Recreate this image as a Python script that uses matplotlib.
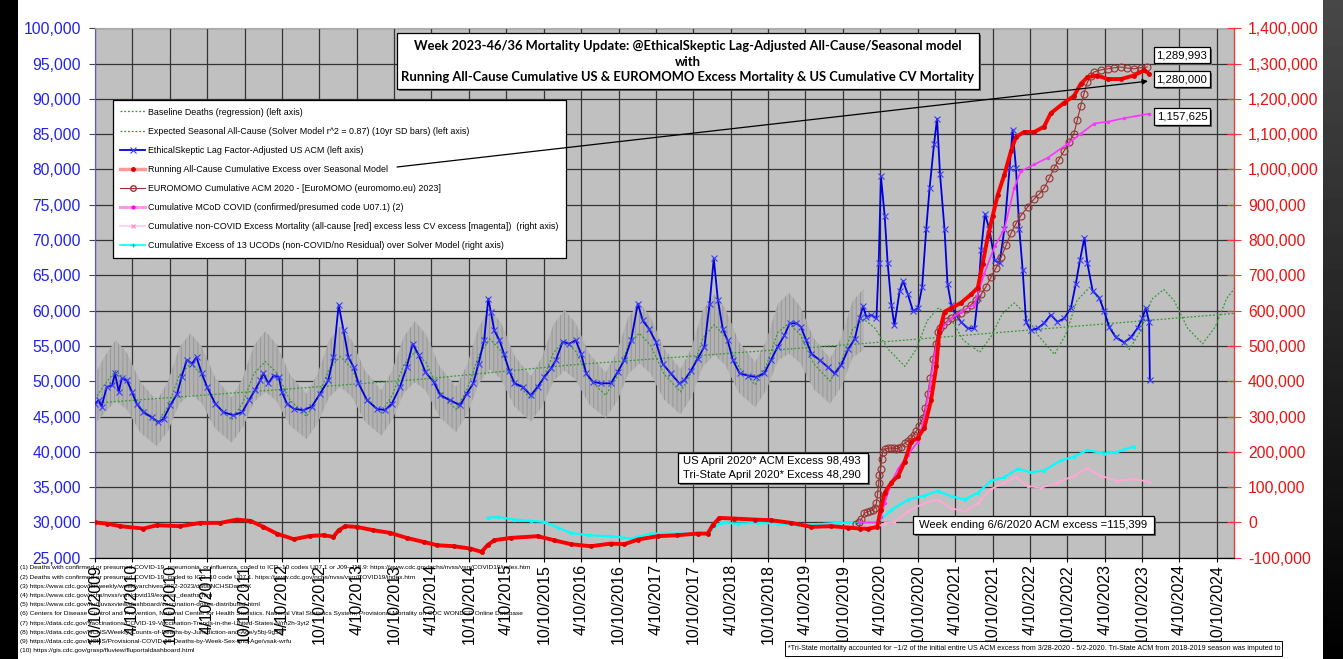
import numpy as np
import matplotlib.pyplot as plt
from matplotlib.patches import Rectangle
from matplotlib.lines import Line2D
from matplotlib.ticker import FuncFormatter

W, H = 1343, 659

# x values are decimal years
tick_labels = ["10/10/2009", "4/10/2010", "10/10/2010", "4/10/2011", "10/10/2011",
               "4/10/2012", "10/10/2012", "4/10/2013", "10/10/2013", "4/10/2014",
               "10/10/2014", "4/10/2015", "10/10/2015", "4/10/2016", "10/10/2016",
               "4/10/2017", "10/10/2017", "4/10/2018", "10/10/2018", "4/10/2019",
               "10/10/2019", "4/10/2020", "10/10/2020", "4/10/2021", "10/10/2021",
               "4/10/2022", "10/10/2022", "4/10/2023", "10/10/2023", "4/10/2024",
               "10/10/2024"]

# EthicalSkeptic lag-adjusted US ACM (left axis)
acm_t = [2009.775, 2009.82, 2009.86, 2009.93, 2010.0, 2010.04, 2010.09, 2010.13, 2010.2, 2010.265,
         2010.33, 2010.42, 2010.53, 2010.62, 2010.69, 2010.78, 2010.87, 2010.93, 2011.0, 2011.07,
         2011.13, 2011.2, 2011.27, 2011.38, 2011.49, 2011.62, 2011.74, 2011.83, 2011.91, 2011.98,
         2012.025, 2012.09, 2012.16, 2012.23, 2012.27, 2012.34, 2012.43, 2012.56, 2012.67, 2012.78,
         2012.89, 2012.96, 2013.03, 2013.095, 2013.16, 2013.23, 2013.295, 2013.41, 2013.54, 2013.65,
         2013.74, 2013.85, 2013.94, 2014.02, 2014.1, 2014.19, 2014.3, 2014.39, 2014.52, 2014.655,
         2014.74, 2014.83, 2014.9, 2014.975, 2015.03, 2015.065, 2015.11, 2015.18, 2015.24, 2015.31,
         2015.38, 2015.49, 2015.6, 2015.69, 2015.78, 2015.87, 2015.935, 2016.025, 2016.11, 2016.2,
         2016.27, 2016.34, 2016.43, 2016.54, 2016.67, 2016.76, 2016.85, 2016.94, 2017.03, 2017.095,
         2017.18, 2017.27, 2017.36, 2017.47, 2017.585, 2017.65, 2017.74, 2017.83, 2017.92, 2017.99,
         2018.045, 2018.1, 2018.165, 2018.23, 2018.3, 2018.39, 2018.5, 2018.61, 2018.72, 2018.81,
         2018.9, 2018.99, 2019.06, 2019.15, 2019.21, 2019.28, 2019.35, 2019.46, 2019.57, 2019.66,
         2019.75, 2019.84, 2019.93, 2019.995, 2020.04, 2020.085, 2020.15, 2020.22, 2020.25, 2020.28,
         2020.33, 2020.37, 2020.42, 2020.46, 2020.53, 2020.575, 2020.64, 2020.71, 2020.775, 2020.83,
         2020.885, 2020.93, 2020.99, 2021.03, 2021.07, 2021.13, 2021.17, 2021.22, 2021.285, 2021.35,
         2021.44, 2021.53, 2021.575, 2021.62, 2021.67, 2021.73, 2021.8, 2021.865, 2021.93, 2022.0,
         2022.04, 2022.085, 2022.13, 2022.175, 2022.22, 2022.285, 2022.375, 2022.46, 2022.55, 2022.64,
         2022.73, 2022.82, 2022.885, 2022.94, 2023.0, 2023.04, 2023.11, 2023.2, 2023.265, 2023.33,
         2023.42, 2023.53, 2023.62, 2023.71, 2023.775, 2023.82, 2023.865, 2023.875]
acm_v = [46800, 47300, 46400, 49200, 49400, 51100, 48500, 50400, 50100, 48500,
         46800, 45600, 44900, 44200, 44700, 46600, 48200, 50600, 53000, 52500,
         53400, 51100, 49200, 46800, 45600, 45200, 45600, 47300, 48700, 50100,
         51100, 49700, 50800, 50600, 48500, 46800, 46100, 45900, 46400, 48200,
         50100, 53400, 60800, 57200, 53400, 52000, 49700, 47300, 46100, 45900,
         46800, 49200, 52000, 55300, 53700, 51300, 49900, 48000, 47300, 46600,
         48200, 49700, 52500, 55800, 61700, 59800, 57200, 55800, 53900, 51500,
         49700, 49200, 48000, 49200, 50600, 51800, 53000, 55600, 55300, 55800,
         53900, 51100, 49900, 49700, 49700, 51300, 53000, 55800, 61000, 58600,
         57400, 55600, 52500, 51100, 49700, 50100, 51500, 53200, 54900, 61000,
         67400, 61500, 57400, 55800, 53000, 51100, 50800, 50600, 51100, 53000,
         54900, 56500, 58200, 58200, 57700, 55800, 53900, 53000, 52000, 51100,
         52300, 54500, 56000, 58900, 60600, 59100, 59400, 58900, 66700, 79000,
         73400, 66700, 60800, 57900, 62800, 64200, 62300, 59900, 60400, 63300,
         71500, 77300, 83600, 87200, 79300, 71500, 63800, 60800, 59400, 58400,
         57500, 57500, 61800, 68600, 73700, 71500, 67100, 66700, 71500, 80200,
         85600, 80200, 71500, 65700, 58400, 57200, 57500, 58200, 59400, 58400,
         58900, 60400, 63800, 67100, 70300, 66700, 62800, 61800, 59900, 57700,
         56200, 55500, 56200, 57500, 58900, 60400, 58400, 50200]

# Expected seasonal all-cause (solver model) and 10yr SD bars (left axis)
seasonal_t = [2009.775, 2009.9,
              2010.05, 2010.2, 2010.38, 2010.6, 2010.75, 2010.9,
              2011.05, 2011.2, 2011.38, 2011.6, 2011.75, 2011.9,
              2012.05, 2012.2, 2012.38, 2012.6, 2012.75, 2012.9,
              2013.05, 2013.2, 2013.38, 2013.6, 2013.75, 2013.9,
              2014.05, 2014.2, 2014.38, 2014.6, 2014.75, 2014.9,
              2015.05, 2015.2, 2015.38, 2015.6, 2015.75, 2015.9,
              2016.05, 2016.2, 2016.38, 2016.6, 2016.75, 2016.9,
              2017.05, 2017.2, 2017.38, 2017.6, 2017.75, 2017.9,
              2018.05, 2018.2, 2018.38, 2018.6, 2018.75, 2018.9,
              2019.05, 2019.2, 2019.38, 2019.6, 2019.75, 2019.9,
              2020.05, 2020.2, 2020.38, 2020.6, 2020.75, 2020.9,
              2021.05, 2021.2, 2021.38, 2021.6, 2021.75, 2021.9,
              2022.06, 2022.2, 2022.38, 2022.6, 2022.75, 2022.9,
              2023.07, 2023.2, 2023.38, 2023.6, 2023.75, 2023.9,
              2024.06, 2024.2, 2024.38, 2024.58, 2024.75, 2024.9,
              2025.02]
seasonal_v = [47500, 49500,
              51500, 50000, 46300, 44000, 46500, 50800,
              52500, 50900, 46900, 44500, 47000, 51100,
              52800, 51200, 47300, 45000, 47600, 51700,
              53500, 51900, 47900, 45500, 48100, 52300,
              54200, 52600, 48500, 46000, 48900, 53600,
              56000, 54300, 50000, 47500, 49900, 54000,
              55800, 54200, 50300, 48000, 50600, 55000,
              56800, 55100, 51000, 48500, 51300, 56100,
              58000, 56300, 52000, 49500, 52300, 56900,
              58200, 56600, 52500, 50000, 52700, 57300,
              58800, 57500, 54500, 52100, 54500, 58600,
              60400, 59100, 55800, 54100, 56300, 59500,
              61100, 59700, 56500, 53800, 56600, 61400,
              63300, 61500, 57000, 54500, 57100, 61600,
              63000, 61400, 57500, 55300, 57700, 61700,
              63300]
sd_v = [3500, 4000,
        4300, 4000, 3600, 3200, 3500, 4000,
        4300, 4000, 3600, 3200, 3500, 4000,
        4300, 4000, 3600, 3200, 3500, 4000,
        4300, 4000, 3600, 3200, 3500, 4000,
        4300, 4000, 3600, 3200, 3500, 4000,
        4300, 4000, 3600, 3200, 3500, 4000,
        4300, 4000, 3600, 3200, 3500, 4000,
        4300, 4000, 3600, 3200, 3500, 4000,
        4300, 4000, 3600, 3200, 3500, 4000,
        4300, 4000, 3600, 3200, 3500, 4000,
        4300]

# Baseline deaths (regression) (left axis)
baseline_t = [2009.775, 2014.16, 2016.13, 2020.0, 2025.0]
baseline_v = [46900, 50300, 52300, 55300, 59600]

# Running all-cause cumulative excess over seasonal model (right axis)
cum_t = [2009.775, 2009.93, 2010.11, 2010.42, 2010.6, 2010.91, 2011.18, 2011.45, 2011.67, 2011.85,
         2012.025, 2012.2, 2012.43, 2012.65, 2012.83, 2012.96, 2013.03, 2013.12, 2013.27, 2013.495,
         2013.72, 2013.94, 2014.165, 2014.345, 2014.57, 2014.79, 2014.94, 2015.02, 2015.11, 2015.33,
         2015.69, 2015.91, 2016.135, 2016.4, 2016.67, 2016.85, 2017.03, 2017.295, 2017.56, 2017.83,
         2017.965, 2018.03, 2018.12, 2018.32, 2018.59, 2018.81, 2019.08, 2019.35, 2019.615, 2019.84,
         2020.0, 2020.105, 2020.23, 2020.275, 2020.33, 2020.42, 2020.51, 2020.595, 2020.685, 2020.77,
         2020.86, 2020.95, 2021.02, 2021.06, 2021.13, 2021.22, 2021.35, 2021.485, 2021.575, 2021.64,
         2021.71, 2021.775, 2021.84, 2021.93, 2022.02, 2022.085, 2022.195, 2022.33, 2022.46, 2022.55,
         2022.73, 2022.86, 2022.95, 2023.04, 2023.17, 2023.31, 2023.49, 2023.66, 2023.8, 2023.865]
cum_v = [0, -3300, -10800, -17400, -8000, -10800, -1400, -1400, 8000, 4300,
         -12700, -31600, -47600, -38200, -36300, -41000, -22200, -10800, -12700, -22200,
         -29700, -43900, -55200, -64600, -67500, -74100, -83500, -64600, -50500, -43900,
         -39100, -50500, -61800, -67500, -60000, -61800, -48600, -39100, -36300, -31600,
         -31600, -8000, 12700, 10900, 8000, 6200, -1400, -12700, -10800, -14600,
         -17400, -18000, -13000, 35500, 84000, 113000, 132000, 171000, 229000, 239000,
         268000, 346000, 442000, 539000, 597000, 607000, 622000, 646000, 665000, 733000,
         811000, 869000, 927000, 985000, 1053000, 1092000, 1106000, 1106000, 1121000, 1159000,
         1189000, 1208000, 1242000, 1261000, 1266000, 1256000, 1256000, 1266000, 1281000, 1271000]

# EUROMOMO cumulative ACM 2020 (right axis)
euro_t = [2019.95, 2019.99, 2020.02, 2020.06, 2020.1, 2020.14, 2020.17, 2020.2, 2020.22, 2020.235,
          2020.25, 2020.26, 2020.275, 2020.29, 2020.305, 2020.33, 2020.37, 2020.41, 2020.45, 2020.48,
          2020.51, 2020.55, 2020.595, 2020.64, 2020.685, 2020.72, 2020.75, 2020.79, 2020.84, 2020.87,
          2020.905, 2020.94, 2020.975, 2021.01, 2021.04, 2021.075, 2021.11, 2021.165, 2021.22, 2021.285,
          2021.35, 2021.42, 2021.485, 2021.55, 2021.62, 2021.685, 2021.75, 2021.82, 2021.89, 2021.955,
          2022.02, 2022.085, 2022.15, 2022.24, 2022.33, 2022.395, 2022.46, 2022.53, 2022.595, 2022.66,
          2022.73, 2022.795, 2022.86, 2022.905, 2022.95, 2022.995, 2023.04, 2023.085, 2023.13, 2023.22,
          2023.31, 2023.4, 2023.49, 2023.575, 2023.66, 2023.75, 2023.84]
euro_v = [-5000, 0, 10000, 26000, 30000, 33000, 35500, 42000, 55000, 80000,
          113000, 135000, 152000, 180000, 200000, 207000, 210000, 211000, 210000, 209000,
          210000, 215000, 224000, 230000, 239000, 248000, 258000, 272000, 297000, 325000,
          365000, 410000, 462000, 505000, 539000, 552000, 559000, 570000, 578000, 586000,
          593000, 604000, 617000, 630000, 646000, 668000, 694000, 722000, 753000, 786000,
          820000, 846000, 869000, 893000, 917000, 930000, 946000, 975000, 1004000, 1028000,
          1053000, 1077000, 1101000, 1140000, 1179000, 1215000, 1247000, 1264000, 1276000, 1282000,
          1285000, 1288000, 1290000, 1287000, 1285000, 1288000, 1290000]

# Cumulative MCoD COVID (right axis)
mcod_t = [2019.99, 2020.24, 2020.28, 2020.33, 2020.42, 2020.51, 2020.64, 2020.775, 2020.86, 2020.93,
          2021.0, 2021.085, 2021.22, 2021.35, 2021.53, 2021.66, 2021.8, 2021.93, 2022.06, 2022.15,
          2022.33, 2022.51, 2022.775, 2022.95, 2023.13, 2023.31, 2023.53, 2023.865]
mcod_v = [0, 0, 16000, 55000, 113000, 152000, 191000, 229000, 297000, 384000,
          481000, 549000, 578000, 597000, 617000, 704000, 782000, 830000, 946000, 995000,
          1014000, 1033000, 1072000, 1101000, 1130000, 1135000, 1145000, 1157625]

# Cumulative non-COVID excess mortality (right axis)
noncovid_t = [2020.0, 2020.23, 2020.33, 2020.46, 2020.64, 2020.86, 2021.04, 2021.22, 2021.4, 2021.575,
              2021.75, 2021.93, 2022.085, 2022.24, 2022.42, 2022.64, 2022.86, 2023.04, 2023.22, 2023.44,
              2023.66, 2023.865]
noncovid_v = [-13000, -13000, -3000, 1500, 31000, 55000, 64500, 40000, 31000, 55000,
              94000, 113000, 128000, 103000, 98000, 113000, 132000, 154000, 132000, 118000,
              123000, 115000]

# Cumulative excess of 13 UCODs (right axis)
ucod_t = [2015.02, 2015.155, 2015.38, 2015.6, 2015.78, 2015.96, 2016.135, 2016.36, 2016.67, 2016.94,
          2017.03, 2017.205, 2017.47, 2017.74, 2017.92, 2018.01, 2018.14, 2018.365, 2018.63, 2018.9,
          2019.17, 2019.44, 2019.705, 2019.97, 2020.24, 2020.42, 2020.64, 2020.86, 2021.04, 2021.22,
          2021.4, 2021.575, 2021.75, 2021.93, 2022.11, 2022.285, 2022.46, 2022.69, 2022.86, 2023.04,
          2023.265, 2023.44, 2023.66]
ucod_v = [12700, 15600, 8000, 4300, 1400, -14600, -29700, -36300, -39100, -45800,
          -41000, -31600, -31600, -31600, -33500, -20300, -1400, -3300, -1400, -3300,
          -8000, -5200, -1400, -1400, 1500, 35500, 64500, 76000, 89000, 74000,
          64500, 84000, 118000, 128000, 152000, 142000, 147000, 176000, 186000, 205000,
          195000, 200000, 215000]

legend_labels = [
    "Baseline Deaths (regression) (left axis)",
    "Expected Seasonal All-Cause (Solver Model r^2 = 0.87) (10yr SD bars) (left axis)",
    "EthicalSkeptic Lag Factor-Adjusted US ACM (left axis)",
    "Running All-Cause Cumulative Excess over Seasonal Model",
    "EUROMOMO Cumulative ACM 2020 - [EuroMOMO (euromomo.eu) 2023]",
    "Cumulative MCoD COVID (confirmed/presumed code U07.1) (2)",
    "Cumulative non-COVID Excess Mortality (all-cause [red] excess less CV excess [magenta])  (right axis)",
    "Cumulative Excess of 13 UCODs (non-COVID/no Residual) over Solver Model (right axis)",
]

footnotes = [
    "(1) Deaths with confirmed or presumed COVID-19, pneumonia, or influenza, coded to ICD\u201310 codes U07.1 or J09\u2013J18.9: https://www.cdc.gov/nchs/nvss/vsrr/COVID19/index.htm",
    "(2) Deaths with confirmed or presumed COVID-19, coded to ICD\u201310 code U07.1. https://www.cdc.gov/nchs/nvss/vsrr/COVID19/index.htm",
    "(3) https://www.cdc.gov/flu/weekly/weeklyarchives2022-2023/data/NCHSDataXX",
    "(4) https://www.cdc.gov/nchs/nvss/vsrr/covid19/excess_deaths.htm",
    "(5) https://www.cdc.gov/flu/fluvaxview/dashboard/vaccination-doses-distributed.html",
    "(6) Centers for Disease Control and Prevention, National Center for Health Statistics. National Vital Statistics System, Provisional Mortality on CDC WONDER Online Database",
    "(7) https://data.cdc.gov/Vaccinations/COVID-19-Vaccination-Trends-in-the-United-States-N/rh2h-3yt2",
    "(8) https://data.cdc.gov/NCHS/Weekly-Counts-of-Deaths-by-Jurisdiction-and-Age/y5bj-9g5w",
    "(9) https://data.cdc.gov/NCHS/Provisional-COVID-19-Deaths-by-Week-Sex-and-Age/vsak-wrfu",
    "(10) https://gis.cdc.gov/grasp/fluview/fluportaldashboard.html",
]

title_lines = [
    "Week 2023-46/36 Mortality Update: @EthicalSkeptic Lag-Adjusted All-Cause/Seasonal model",
    "with",
    "Running All-Cause Cumulative US & EUROMOMO Excess Mortality & US Cumulative CV Mortality",
]


def dec_year(label):
    m, d, y = (int(p) for p in label.split("/"))
    days = [0, 31, 59, 90, 120, 151, 181, 212, 243, 273, 304, 334][m - 1] + d - 1
    return y + days / 365.0


plt.rcParams["font.family"] = ["Liberation Sans", "DejaVu Sans"]
plt.rcParams["hatch.linewidth"] = 0.6

fig = plt.figure(figsize=(W / 100, H / 100), dpi=100)
fig.patch.set_facecolor("white")


def fx(x):
    return x / W


def fy(y):
    return 1 - y / H


def px_box(x0, y0, x1, y1, shadow=True, lw=0.9):
    if shadow:
        fig.add_artist(Rectangle((fx(x0 + 2), fy(y1 + 2)), (x1 - x0) / W, (y1 - y0) / H,
                                 transform=fig.transFigure, fc="#606060", ec="none", zorder=4))
    fig.add_artist(Rectangle((fx(x0), fy(y1)), (x1 - x0) / W, (y1 - y0) / H,
                             transform=fig.transFigure, fc="white", ec="black", lw=lw, zorder=5))


# frame decorations
fig.add_artist(Rectangle((0, 0), fx(18), 1, transform=fig.transFigure, fc="black", ec="none", zorder=0))
edge = fig.add_axes([fx(1323), 0, 20 / W, 1])
edge.imshow(np.linspace(0.28, 0.0, 100).reshape(-1, 1), cmap="gray", vmin=0, vmax=1, aspect="auto")
edge.axis("off")

ax = fig.add_axes([fx(95), fy(557.7), (1234 - 95) / W, (557.7 - 28.2) / H])
ax.set_facecolor("#c0c0c0")
ax.set_xlim(dec_year(tick_labels[0]), 2025.0)
ax.set_ylim(25000, 100000)

n_sd = len(sd_v)
lo = np.array(seasonal_v[:n_sd]) - np.array(sd_v)
hi = np.array(seasonal_v[:n_sd]) + np.array(sd_v)
ax.fill_between(seasonal_t[:n_sd], lo, hi, facecolor="#b2b2b2", edgecolor="#939393",
                hatch="||||", lw=0, zorder=1)

ax.plot(baseline_t, baseline_v, color="#339933", ls=(0, (1.5, 1.5)), lw=0.9, zorder=2)
ax.plot(seasonal_t, seasonal_v, color="#339933", ls=(0, (1.5, 1.5)), lw=0.9, zorder=2)
ax.plot(acm_t, acm_v, color="#0000dd", lw=1.3, marker="x", ms=5, mec="#3b3bff", mew=0.8, zorder=3)

ax.set_xticks([dec_year(s) for s in tick_labels])
ax.set_xticklabels(tick_labels, rotation=90, fontsize=11.5)
ax.set_yticks(np.arange(25000, 100001, 5000))
ax.yaxis.set_major_formatter(FuncFormatter(lambda v, p: f"{int(v):,}"))
ax.tick_params(axis="y", labelsize=11.3, labelcolor="#2222ee", color="#444444", length=4, pad=6)
ax.tick_params(axis="x", color="black", length=3, pad=1.5)
ax.grid(True, color="#333333", lw=0.9)
ax.set_axisbelow(True)
ax.spines["left"].set_color("#5555ff")
ax.spines["top"].set_color("#aaaaaa")

ax2 = ax.twinx()
ax2.set_ylim(-100000, 1400000)
ax2.set_yticks(np.arange(-100000, 1400001, 100000))
ax2.yaxis.set_major_formatter(FuncFormatter(lambda v, p: f"{int(v):,}"))
ax2.tick_params(axis="y", labelsize=11.3, labelcolor="#ee1111", color="#ff3333",
                direction="inout", length=10, pad=5)
ax2.spines["right"].set_color("#ff3333")
ax2.spines["left"].set_visible(False)
ax2.spines["top"].set_visible(False)

ax2.plot(ucod_t, ucod_v, color="#00ffff", lw=1.6, marker=".", ms=3, zorder=2)
ax2.plot(noncovid_t, noncovid_v, color="#ffa8d4", lw=1.3, marker=".", ms=3, zorder=2)
ax2.plot(euro_t, euro_v, color="#a03030", lw=0.8, marker="o", ms=5, mfc="none", mec="#993333", mew=0.8, zorder=3)
ax2.plot(mcod_t, mcod_v, color="#ff33ff", lw=1.2, marker=".", ms=3, zorder=3)
ax2.plot(cum_t, cum_v, color="#ff0000", lw=2.8, marker="o", ms=2.5, mfc="#dd0000", mec="#dd0000", zorder=4)

handles = [
    Line2D([], [], color="#339933", ls=(0, (1.5, 1.5)), lw=0.9),
    Line2D([], [], color="#339933", ls=(0, (1.5, 1.5)), lw=0.9),
    Line2D([], [], color="#0000dd", lw=1.3, marker="x", ms=5, mec="#3b3bff", mew=0.8),
    Line2D([], [], color="#ff9999", lw=2.5, marker="o", ms=2.5, mfc="#dd0000", mec="#dd0000"),
    Line2D([], [], color="#a03030", lw=0.8, marker="o", ms=4, mfc="none", mec="#993333"),
    Line2D([], [], color="#ff99dd", lw=2.2, marker=".", ms=4, mfc="#ff00ff", mec="#ff00ff"),
    Line2D([], [], color="#ffccee", lw=1.2, marker="x", ms=2.5, mec="#ff99cc"),
    Line2D([], [], color="#00ffff", lw=1.2, marker="+", ms=3, mec="#00cccc"),
]
leg = ax2.legend(handles, legend_labels, loc="upper left", bbox_to_anchor=(fx(112.7), fy(100)),
                 bbox_transform=fig.transFigure, fontsize=6.4, handlelength=2.8, handletextpad=0.3,
                 labelspacing=1.14, borderpad=0.85, borderaxespad=0, fancybox=False, shadow=False,
                 frameon=True, edgecolor="black", framealpha=1)
leg.get_frame().set_linewidth(0.9)
leg.set_zorder(5)

ann = ax2.annotate("", xy=(2023.85, 1250000), xycoords="data",
                   xytext=(fx(397), fy(167)), textcoords="figure fraction",
                   arrowprops=dict(arrowstyle="-|>", color="black", lw=0.9, shrinkA=0, shrinkB=0,
                                   mutation_scale=8), annotation_clip=False)
ann.set_zorder(10)

# title box
px_box(397, 33, 979, 89)
for line, yy in zip(title_lines, [46, 62, 77]):
    fig.text(fx(688), fy(yy), line, ha="center", va="center", fontsize=9.4, fontweight="bold",
             family=["Lato", "DejaVu Sans"], zorder=6)

# value boxes
for txt, (y0, y1) in zip(["1,289,993", "1,280,000", "1,157,625"], [(47, 63), (71, 87), (108, 125)]):
    px_box(1154, y0, 1210, y1)
    fig.text(fx(1182), fy((y0 + y1) / 2), txt, ha="center", va="center", fontsize=8.2, zorder=6)

px_box(678, 453, 868, 483)
fig.text(fx(683), fy(461), "US April 2020* ACM Excess 98,493", ha="left", va="center", fontsize=8.1, zorder=6)
fig.text(fx(683), fy(475), "Tri-State April 2020* Excess 48,290", ha="left", va="center", fontsize=8.1, zorder=6)

px_box(913, 516, 1154, 534)
fig.text(fx(1033), fy(525), "Week ending 6/6/2020 ACM excess =115,399", ha="center", va="center",
         fontsize=8.1, zorder=6)

# footnotes
for i, s in enumerate(footnotes):
    fig.text(fx(20), fy(568 + i * 9.2), s, ha="left", va="center", fontsize=4.65, zorder=6)

px_box(785, 641, 1282, 656, shadow=False, lw=0.7)
fig.text(fx(788), fy(648.5),
         "*Tri-State mortality accounted for ~1/2 of the initial entire US ACM excess from 3/28-2020 - 5/2-2020. "
         "Tri-State ACM from 2018-2019 season was imputed to",
         ha="left", va="center", fontsize=5.1, zorder=6)

fig.savefig("out.png", dpi=100)
